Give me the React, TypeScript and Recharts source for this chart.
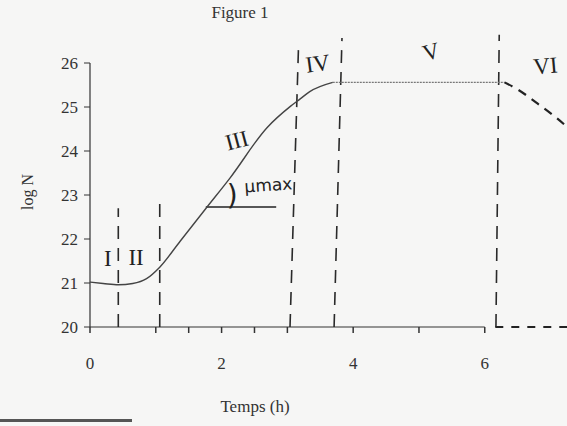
import { LineChart, Line, XAxis, YAxis, ReferenceLine, ReferenceDot } from 'recharts';

document.body.style.margin = '0';

const INK = '#333';
const SERIF = '"Liberation Serif", "DejaVu Serif", serif';

// log N against time (h)
const growth = [
  { t: 0, v: 21.02 },
  { t: 0.2, v: 20.99 },
  { t: 0.43, v: 20.96 },
  { t: 0.65, v: 20.99 },
  { t: 0.86, v: 21.1 },
  { t: 1.06, v: 21.36 },
  { t: 1.37, v: 21.95 },
  { t: 1.77, v: 22.71 },
  { t: 2.13, v: 23.39 },
  { t: 2.69, v: 24.53 },
  { t: 3.05, v: 25.02 },
  { t: 3.19, v: 25.18 },
  { t: 3.34, v: 25.35 },
  { t: 3.69, v: 25.56 },
];
const plateau = [
  { t: 3.69, v: 25.56 },
  { t: 5.0, v: 25.56 },
  { t: 6.3, v: 25.56 },
];
const decline = [
  { t: 6.3, v: 25.56 },
  { t: 6.5, v: 25.4 },
  { t: 6.8, v: 25.08 },
  { t: 7.05, v: 24.8 },
  { t: 7.25, v: 24.55 },
];

const xTicks = [0, 1, 1.5, 2, 2.5, 3, 4, 5, 6];
const yTicks = [20, 21, 22, 23, 24, 25, 26];

// phase boundaries (hand drawn, a little slanted)
const phaseBounds = [
  { t0: 0.43, v0: 20, t1: 0.43, v1: 22.7 },
  { t0: 1.06, v0: 20, t1: 1.06, v1: 22.8 },
  { t0: 3.04, v0: 20, t1: 3.17, v1: 26.41 },
  { t0: 3.71, v0: 20, t1: 3.83, v1: 26.57 },
  { t0: 6.17, v0: 20, t1: 6.22, v1: 26.64 },
];

const phaseLabels = [
  { name: 'I', t: 0.27, v: 21.57, angle: 0 },
  { name: 'II', t: 0.7, v: 21.59, angle: 0 },
  { name: 'III', t: 2.23, v: 24.25, angle: -15 },
  { name: 'IV', t: 3.46, v: 26.0, angle: -8 },
  { name: 'V', t: 5.18, v: 26.27, angle: -15 },
  { name: 'VI', t: 6.92, v: 25.95, angle: -5 },
];

const muLine = { t0: 1.76, t1: 2.83, v: 22.73 };
const muText = { t: 2.71, v: 23.23 };
const muArc = { t: 2.16, v: 23.0 };

export default function App() {
  return (
    <div style={{ position: 'relative', width: 567, height: 426, background: '#f6f6f5', fontFamily: SERIF, color: INK }}>
      <LineChart width={567} height={426} margin={{ top: 19, right: 0, bottom: 59, left: 30 }}>
        <XAxis
          dataKey="t"
          type="number"
          domain={[0, 7.25]}
          ticks={xTicks}
          tickFormatter={(v: number) => (v % 2 === 0 ? String(v) : '')}
          axisLine={false}
          tickLine={{ stroke: INK, strokeWidth: 1.5 }}
          tickSize={6}
          tickMargin={24}
          height={40}
          tick={{ fill: INK, fontSize: 17, fontFamily: SERIF }}
          interval={0}
          allowDataOverflow
        />
        <YAxis
          type="number"
          domain={[20, 27]}
          ticks={yTicks}
          axisLine={false}
          tickLine={{ stroke: INK }}
          tickSize={6}
          tickMargin={6}
          width={60}
          tick={{ fill: INK, fontSize: 17, fontFamily: SERIF }}
          allowDataOverflow
        />
        <ReferenceLine segment={[{ x: 0, y: 20 }, { x: 0, y: 26 }]} stroke={INK} strokeWidth={1.2} />
        <ReferenceLine segment={[{ x: 0, y: 20 }, { x: 6, y: 20 }]} stroke={INK} strokeWidth={1.2} />
        <ReferenceLine
          segment={[{ x: 6.16, y: 20 }, { x: 7.25, y: 20 }]}
          stroke="#222"
          strokeWidth={2}
          strokeDasharray="8 8"
        />
        {phaseBounds.map((b, i) => (
          <ReferenceLine
            key={`b-${i}`}
            segment={[{ x: b.t0, y: b.v0 }, { x: b.t1, y: b.v1 }]}
            stroke="#2a2a2a"
            strokeWidth={1.6}
            strokeDasharray="13 9"
          />
        ))}
        <ReferenceLine
          segment={[{ x: muLine.t0, y: muLine.v }, { x: muLine.t1, y: muLine.v }]}
          stroke="#222"
          strokeWidth={1.5}
        />
        <Line data={growth} dataKey="v" type="monotone" stroke="#444" strokeWidth={1.4} dot={false} isAnimationActive={false} />
        <Line
          data={plateau}
          dataKey="v"
          type="linear"
          stroke="#777"
          strokeWidth={1.3}
          strokeDasharray="2 1"
          dot={false}
          isAnimationActive={false}
        />
        <Line
          data={decline}
          dataKey="v"
          type="monotone"
          stroke="#222"
          strokeWidth={2.2}
          strokeDasharray="9 7"
          dot={false}
          isAnimationActive={false}
        />
        {phaseLabels.map((p) => (
          <ReferenceDot
            key={p.name}
            x={p.t}
            y={p.v}
            r={0}
            fill="none"
            stroke="none"
            label={{ value: p.name, position: 'center', angle: p.angle, fill: '#222', fontSize: 23, fontFamily: SERIF }}
          />
        ))}
        <ReferenceDot
          x={muText.t}
          y={muText.v}
          r={0}
          fill="none"
          stroke="none"
          label={{ value: 'μmax', position: 'center', angle: -4, fill: '#222', fontSize: 17, fontFamily: '"DejaVu Sans", sans-serif' }}
        />
        <ReferenceDot
          x={muArc.t}
          y={muArc.v}
          r={0}
          fill="none"
          stroke="none"
          label={{ value: ')', position: 'center', fill: '#222', fontSize: 28, fontFamily: '"DejaVu Sans", sans-serif' }}
        />
      </LineChart>
      <div style={{ position: 'absolute', left: 0, width: 480, top: 3, textAlign: 'center', fontSize: 17 }}>Figure 1</div>
      <div
        style={{
          position: 'absolute',
          left: 28,
          top: 192,
          transform: 'translate(-50%, -50%) rotate(-90deg)',
          fontSize: 16,
          whiteSpace: 'nowrap',
        }}
      >
        log N
      </div>
      <div style={{ position: 'absolute', left: 0, width: 510, top: 397, textAlign: 'center', fontSize: 17 }}>Temps (h)</div>
      <div style={{ position: 'absolute', left: 0, top: 419, width: 132, height: 3, background: '#555' }} />
    </div>
  );
}
